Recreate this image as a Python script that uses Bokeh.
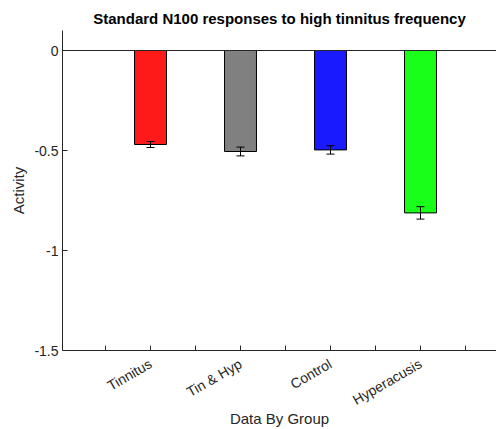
import math
from bokeh.plotting import figure
from bokeh.models import (ColumnDataSource, FixedTicker, Span, Whisker, TeeHead,
                          Title, Range1d)
from bokeh.embed import file_html
from bokeh.resources import INLINE

groups = ["Tinnitus", "Tin & Hyp", "Control", "Hyperacusis"]
means = [-0.470, -0.505, -0.497, -0.812]
errors = [0.015, 0.022, 0.021, 0.031]
colors = ["#FF1A1A", "#808080", "#1A1AFF", "#1AFF1A"]
y_ticks = [0, -0.5, -1, -1.5]
y_tick_labels = ["0", "-0.5", "-1", "-1.5"]
title_text = "Standard N100 responses to high tinnitus frequency"
x_title = "Data By Group"
y_title = "Activity"

xs = [2 * (i + 1) for i in range(len(groups))]
src = ColumnDataSource(dict(
    x=xs, top=[0] * len(xs), bottom=means, color=colors,
    upper=[m + e for m, e in zip(means, errors)],
    lower=[m - e for m, e in zip(means, errors)],
))

FONT = "Liberation Sans"
AX = "#262626"

p = figure(width=496, height=429, output_backend="svg", toolbar_location=None,
           x_range=Range1d(0.044, 9.689), y_range=Range1d(-1.5, 0.1),
           min_border_left=62, min_border_right=0, min_border_top=30,
           min_border_bottom=79)
p.outline_line_color = None
p.grid.visible = False
p.background_fill_color = "white"
p.border_fill_color = "white"

p.title.text = title_text
p.title.align = "center"
p.title.offset = 6
p.title.text_font = FONT
p.title.text_font_size = "15px"
p.title.text_font_style = "bold"
p.title.text_color = "black"
p.title.standoff = 7

p.vbar(x="x", top="top", bottom="bottom", width=0.71, fill_color="color",
       line_color="black", line_width=1, source=src)

p.add_layout(Span(location=0, dimension="width", line_color=AX, line_width=1))

w = Whisker(base="x", upper="upper", lower="lower", source=src,
            line_color="black", line_width=1, level="overlay",
            upper_head=TeeHead(size=8, line_color="black", line_width=1),
            lower_head=TeeHead(size=8, line_color="black", line_width=1))
p.add_layout(w)

# x axis
xa = p.xaxis[0]
xa.ticker = FixedTicker(ticks=list(range(1, 10)))
overrides = {i: "" for i in range(1, 10)}
for x, g in zip(xs, groups):
    overrides[x] = g
xa.major_label_overrides = overrides
xa.major_label_orientation = math.pi / 6
xa.major_tick_in = 5
xa.major_tick_out = 0
xa.minor_tick_line_color = None
xa.axis_line_color = AX
xa.major_tick_line_color = AX
xa.major_label_text_font = FONT
xa.major_label_text_font_size = "14px"
xa.major_label_text_color = AX
xa.major_label_standoff = 12

p.add_layout(Title(text=x_title, align="center", offset=6, text_font=FONT,
                   text_font_size="15px", text_font_style="normal",
                   text_color=AX, standoff=-17, vertical_align="middle"),
             "below")

# y axis
ya = p.yaxis[0]
ya.ticker = FixedTicker(ticks=y_ticks)
ya.major_label_overrides = {t: l for t, l in zip(y_ticks, y_tick_labels)}
ya.major_tick_in = 5
ya.major_tick_out = 0
ya.minor_tick_line_color = None
ya.axis_line_color = AX
ya.major_tick_line_color = AX
ya.major_label_text_font = FONT
ya.major_label_text_font_size = "14px"
ya.major_label_text_color = AX
ya.major_label_standoff = 4
ya.axis_label = y_title
ya.axis_label_text_font = FONT
ya.axis_label_text_font_size = "15px"
ya.axis_label_text_font_style = "normal"
ya.axis_label_text_color = AX
ya.axis_label_standoff = 4

open("out.html", "w").write(file_html(p, INLINE))
